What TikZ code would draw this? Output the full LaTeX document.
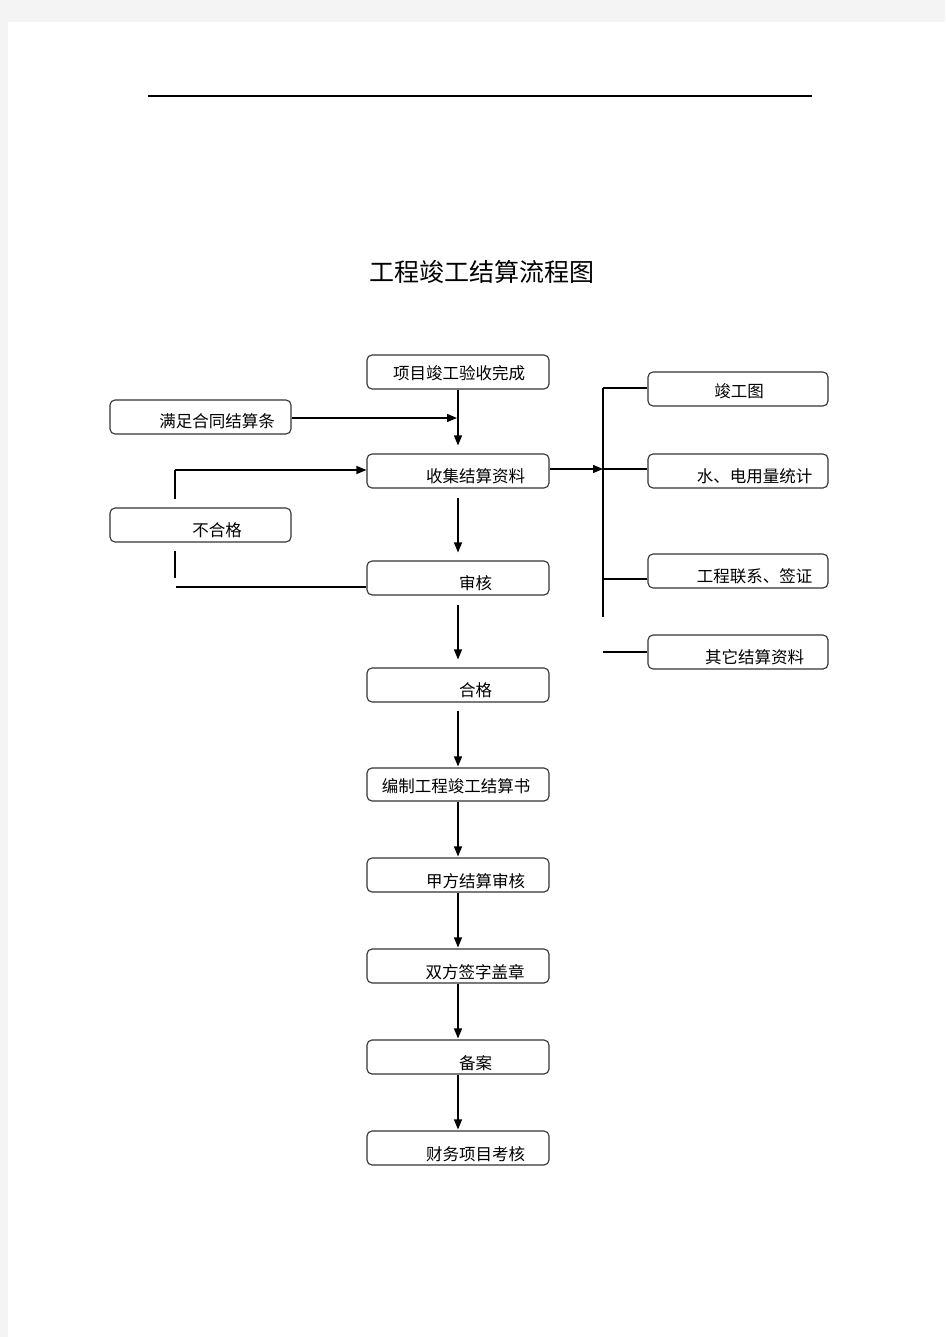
\documentclass[tikz,border=0pt]{standalone}
\usepackage{fontspec}
\setmainfont{Noto Sans CJK SC}
\newfontfamily\cjk{Noto Sans CJK SC}
\usetikzlibrary{arrows.meta}
\definecolor{pagegray}{HTML}{F4F4F4}
\definecolor{boxline}{HTML}{333333}
\tikzset{
  box/.style={draw=boxline, line width=1.1pt, rounded corners=5pt, minimum width=182pt, minimum height=34pt, inner sep=0pt},
  rbox/.style={box, minimum width=180pt},
  txt/.style={font=\cjk\fontsize{16.5pt}{18pt}\selectfont, inner sep=0pt, anchor=center},
  conn/.style={line width=1.2pt, draw=black},
  arr/.style={conn, -{Triangle[length=10pt,width=8pt]}},
}
\begin{document}
\begin{tikzpicture}[x=1pt,y=-1pt]
\useasboundingbox (0,0) rectangle (945,1337);
\fill[pagegray] (0,0) rectangle (945,1337);
\fill[white] (8,22) rectangle (945,1337);
% header rule
\draw[line width=1.2pt] (148,96) -- (812,96);
% title
\node[font=\cjk\fontsize{25pt}{28pt}\selectfont, inner sep=0pt] (title) at (482,272) {工程竣工结算流程图};
% main column boxes
\node[box] (p1) at (458,372) {};
\node[box, minimum width=181pt] (p2) at (200.5,417) {};
\node[box] (p3) at (458,471) {};
\node[box, minimum width=181pt] (p4) at (200.5,525) {};
\node[box] (p5) at (458,578) {};
\node[box] (p6) at (458,685) {};
\node[box, minimum height=33pt] (p7) at (458,784.5) {};
\node[box] (p8) at (458,875) {};
\node[box] (p9) at (458,966) {};
\node[box] (p10) at (458,1057) {};
\node[box] (p11) at (458,1148) {};
% right boxes
\node[rbox] (r1) at (738,389) {};
\node[rbox] (r2) at (738,471) {};
\node[rbox] (r3) at (738,571) {};
\node[rbox] (r4) at (738,652) {};
% texts
\node[txt] (t1) at (459,373) {项目竣工验收完成};
\node[txt] (t2) at (217,421) {满足合同结算条};
\node[txt] (t3) at (475.5,476) {收集结算资料};
\node[txt] (t4) at (217,530) {不合格};
\node[txt] (t5) at (475.5,583) {审核};
\node[txt] (t6) at (475.5,690) {合格};
\node[txt] (t7) at (456,786) {编制工程竣工结算书};
\node[txt] (t8) at (475.5,881) {甲方结算审核};
\node[txt] (t9) at (475,972) {双方签字盖章};
\node[txt] (t10) at (475.5,1063) {备案};
\node[txt] (t11) at (475.5,1154) {财务项目考核};
\node[txt] (u1) at (739,391) {竣工图};
\node[txt] (u2) at (754.5,476) {水、电用量统计};
\node[txt] (u3) at (754.5,576) {工程联系、签证};
\node[txt] (u4) at (754.5,657) {其它结算资料};
% coordinates
\coordinate (m) at (457,418);
\coordinate (fb1) at (175,499);
\coordinate (fb2) at (175,470);
\coordinate (fb3) at (175,551);
\coordinate (fb4) at (175,578);
\coordinate (fb5) at (176,587);
\coordinate (tr) at (603,469);
\coordinate (trtop) at (603,388);
\coordinate (trbot) at (603,617);
\coordinate (tr3) at (603,579);
\coordinate (tr4) at (603,652);
% main flow
\draw[arr, shorten >=8pt] (p1.south) -- (p3.north);
\draw[arr] (p2.east |- m) -- (m);
\draw[arr, shorten <=9pt, shorten >=8pt] (p3.south) -- (p5.north);
\draw[arr, shorten <=9pt, shorten >=8pt] (p5.south) -- (p6.north);
\draw[arr, shorten <=8pt, shorten >=1pt] (p6.south) -- (p7.north);
\draw[arr, shorten >=1pt] (p7.south) -- (p8.north);
\draw[arr, shorten >=1pt] (p8.south) -- (p9.north);
\draw[arr, shorten >=1pt] (p9.south) -- (p10.north);
\draw[arr, shorten >=1pt] (p10.south) -- (p11.north);
% feedback loop (不合格)
\draw[conn] (fb1) -- (fb2);
\draw[arr] (fb2) -- (fb2 -| p3.west);
\draw[conn] (fb3) -- (fb4);
\draw[conn] (fb5) -- (fb5 -| p5.west);
% right branch
\draw[arr] (p3.east |- tr) -- (tr);
\draw[conn] (trtop) -- (trbot);
\draw[conn] (trtop) -- (trtop -| r1.west);
\draw[conn] (tr) -- (tr -| r2.west);
\draw[conn] (tr3) -- (tr3 -| r3.west);
\draw[conn] (tr4) -- (r4.west);
\end{tikzpicture}
\end{document}
